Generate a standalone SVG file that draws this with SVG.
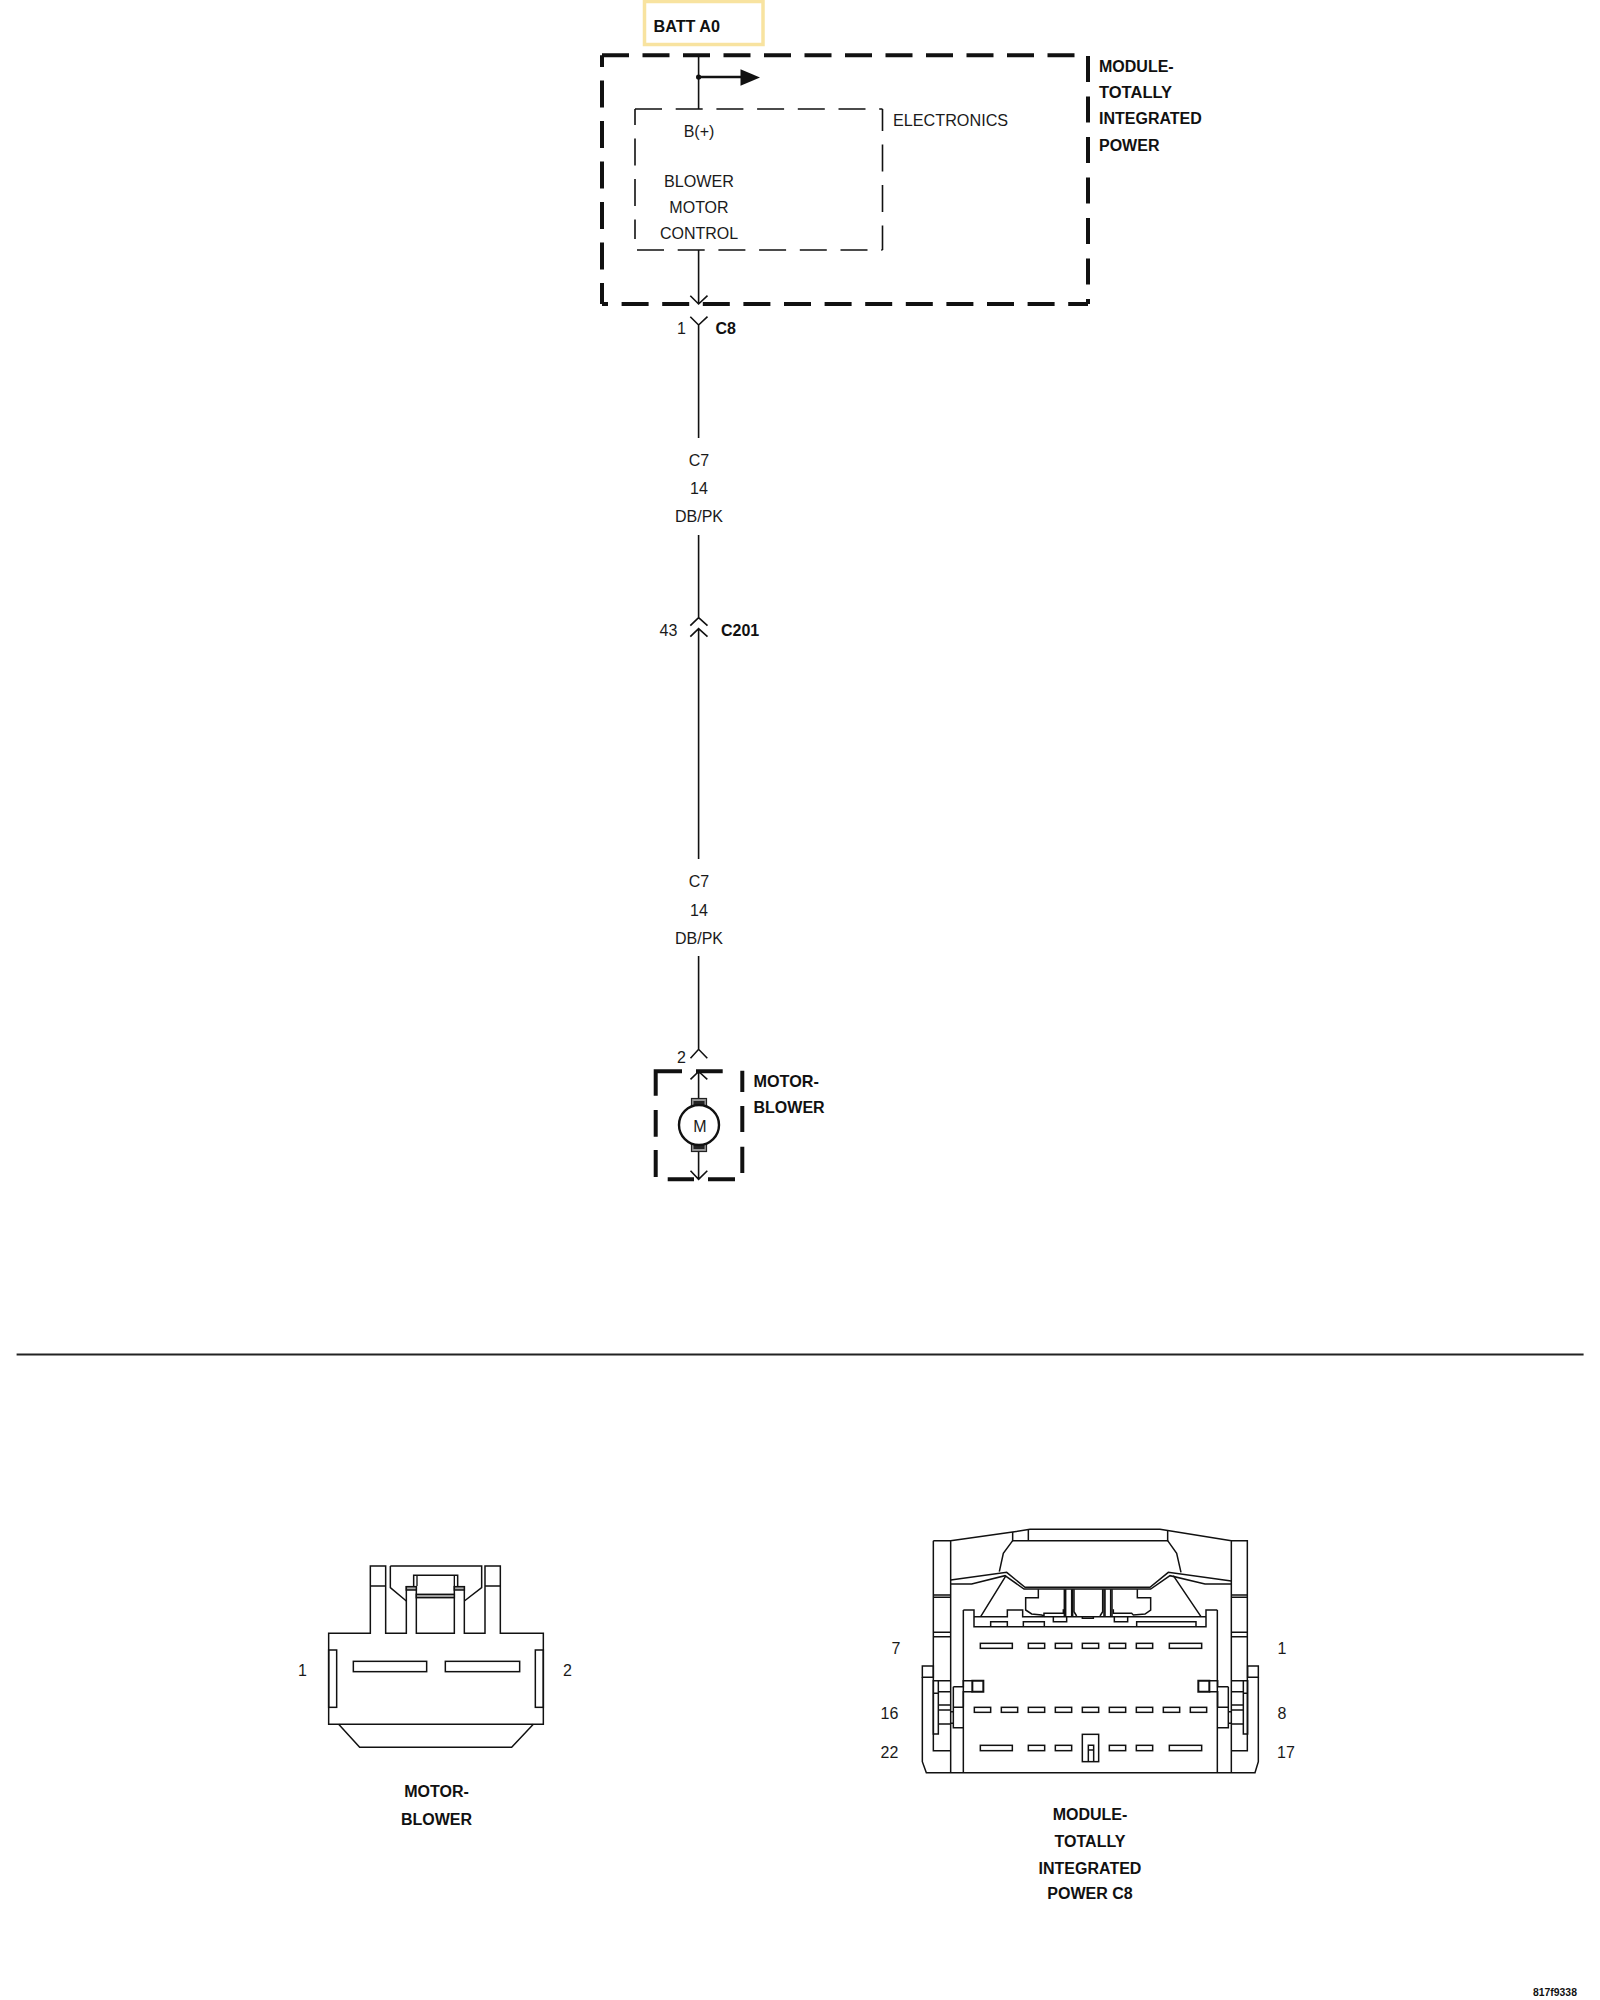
<svg xmlns="http://www.w3.org/2000/svg" width="1600" height="2000" viewBox="0 0 1600 2000">
<style>
text{font-family:"Liberation Sans",Arial,sans-serif;font-size:16px;fill:#1a1a1a}
.b{font-weight:bold;fill:#111}
.m{text-anchor:middle}
.w{fill:none;stroke:#111;stroke-width:1.6}
.d4{fill:none;stroke:#111;stroke-width:4}
.d2{fill:none;stroke:#111;stroke-width:1.6}
.c{fill:none;stroke:#111;stroke-width:4.5}
.g{fill:#aaa;stroke:#111;stroke-width:4.5}
.k{fill:none;stroke:#111;stroke-width:4}
</style>
<rect width="1600" height="2000" fill="#fff"/>
<g id="batt-a0">
<rect x="644.5" y="1.5" width="118.5" height="43" fill="#fff" stroke="#f8e3a0" stroke-width="3.5"/>
<text class="b" x="653.5" y="31.5" style="font-size:16.2px">BATT A0</text>
</g>
<g id="module-tipm">
<path class="d4" stroke-dasharray="27 13.5" d="M602,55.3H1075"/>
<path class="d4" stroke-dasharray="27 13.5" stroke-dashoffset="6" d="M602,304V55.3"/>
<path class="d4" stroke-dasharray="26 14.5" d="M1088,56V304"/>
<path class="d4" stroke-dasharray="27 13.6" stroke-dashoffset="21" d="M602,304H1088"/>
<text class="b" x="1099" y="72">MODULE-</text>
<text class="b" x="1099" y="98" style="font-size:16.5px">TOTALLY</text>
<text class="b" x="1099" y="124">INTEGRATED</text>
<text class="b" x="1099" y="151">POWER</text>
</g>
<g id="electronics">
<path class="d2" stroke-dasharray="27 13.7" d="M635,109H882.5"/>
<path class="d2" stroke-dasharray="27 13.5" stroke-dashoffset="11" d="M635,109V239"/>
<path class="d2" stroke-dasharray="27 13.5" stroke-dashoffset="5" d="M882.5,109V250"/>
<path class="d2" stroke-dasharray="27 13.7" d="M637,250H882.5"/>
<text x="893" y="126" style="font-size:16.2px">ELECTRONICS</text>
<text class="m" x="699" y="137">B(+)</text>
<text class="m" x="699" y="187" style="font-size:16.2px">BLOWER</text>
<text class="m" x="699" y="213">MOTOR</text>
<text class="m" x="699" y="239">CONTROL</text>
</g>
<g id="connectors">
<path class="w" d="M698.6,56V109M698.6,250V304M690.3,295.7L698.6,304L707.5,295.7"/>
<circle cx="698.6" cy="77" r="2.6" fill="#111"/>
<path d="M698.6,77H742" fill="none" stroke="#111" stroke-width="2.6"/>
<path d="M740.5,69.3L760,77.5L740.5,85.7Z" fill="#111"/>
<path class="w" d="M690.3,316.7L698.6,325L707.5,316.7M698.6,325V438"/>
<path class="w" d="M698.6,535V617.7M690.3,625.7L698.6,617.7L707.5,625.7"/>
<path class="w" d="M690.3,636.7L698.6,628.7L707.5,636.7M698.6,628.7V859"/>
<path class="w" d="M698.6,956V1049.3M690.5,1058.3L698.6,1049.3L707.3,1058.3"/>
<path class="w" d="M690.5,1079.3L698.6,1071.5L707.3,1079.3M698.6,1071.5V1098M698.6,1151V1179.3M690.5,1170.7L698.6,1179.3L707.3,1170.7"/>
<path d="M16.6,1354.5H1583.6" stroke="#222" stroke-width="2" fill="none"/>
</g>
<g id="labels">
<text class="m" x="681.5" y="334">1</text>
<text class="b" x="715.5" y="334">C8</text>
<text class="m" x="699" y="466">C7</text>
<text class="m" x="699" y="494">14</text>
<text class="m" x="699" y="522">DB/PK</text>
<text class="m" x="668.5" y="636">43</text>
<text class="b" x="721" y="636">C201</text>
<text class="m" x="699" y="887">C7</text>
<text class="m" x="699" y="916">14</text>
<text class="m" x="699" y="944">DB/PK</text>
<text class="m" x="681.5" y="1062.5">2</text>
</g>
<g id="motor-blower">
<path class="d4" d="M682,1071.3H655.7V1095.7M696,1071.3H722.7M655.7,1110V1136.7M655.7,1150V1177M742.3,1070.7V1092M742.3,1106V1132M742.3,1146.7V1173M667.7,1179.3H694M708,1179.3H735"/>
<rect x="691.5" y="1098.5" width="15" height="9" fill="#999" stroke="#222" stroke-width="1.2"/>
<rect x="693.5" y="1101" width="11" height="6" fill="#222"/>
<rect x="691.5" y="1143" width="15" height="8.5" fill="#999" stroke="#222" stroke-width="1.2"/>
<rect x="693.5" y="1144" width="11" height="5" fill="#222"/>
<circle cx="699" cy="1125" r="20" fill="#fff" stroke="#111" stroke-width="2.4"/>
<text class="m" x="700" y="1131.5">M</text>
<text class="b" x="753.5" y="1086.7" style="font-size:16.2px">MOTOR-</text>
<text class="b" x="753.5" y="1112.7">BLOWER</text>
</g>
<g id="connector-motor-blower">
<g transform="translate(280,1550) scale(0.33333)">
<path class="c" d="M146,523V250H271V48H317V250H379V110H409V250H523V110H553V250H615V48H661V250H790V523Z"/>
<path class="c" d="M271,108H317M615,108H661M331,48H605V113L553,153M331,48V113L379,153"/>
<path class="c" d="M401,108V76H533V108"/>
<path class="k" d="M411,76V108M523,76V108"/>
<rect class="g" x="379" y="110" width="30" height="10"/>
<rect class="g" x="523" y="110" width="30" height="10"/>
<rect class="g" x="409" y="133" width="114" height="10"/>
<rect class="c" x="146" y="300" width="24" height="172"/>
<rect class="c" x="766" y="300" width="24" height="172"/>
<rect class="c" x="220" y="334" width="220" height="31"/>
<rect class="c" x="496" y="334" width="223" height="31"/>
<path class="c" d="M176,523L239,592H695L760,523"/>
</g>
<text class="m" x="302.5" y="1676">1</text>
<text class="m" x="567.5" y="1676">2</text>
<text class="b m" x="436.5" y="1797">MOTOR-</text>
<text class="b m" x="436.5" y="1825">BLOWER</text>
</g>
<g id="connector-tipm-c8">
<g transform="translate(900,1510) scale(0.33333)">
<path class="c" d="M100,92H152L338,66L390,58H780L994,92H1042V722H994M100,92V722H152M152,92V788M190,300V788M994,92V788M952,300V788M67,502V755L79,788H1065L1075,755V502"/>
<path class="c" d="M338,66V92H803V62M385,60V92"/>
<path class="c" d="M338,92L310,130L298,185M803,92L830,130L843,187"/>
<path class="c" d="M152,210L320,187L375,232H750L805,187L994,213"/>
<path class="c" d="M152,222H215L315,197L372,237H752L810,197L915,222H994"/>
<path class="c" d="M318,197L242,320M820,197L903,320"/>
<path class="c" d="M100,255H152M100,262H152M994,255H1042M994,262H1042M100,367H152M100,380H152M994,367H1042M994,380H1042"/>
<path class="c" d="M190,300H222V350H918V300H952M222,320H322V300H368V320H918"/>
<path class="c" d="M272,350V335H322V350M370,350V335H433V350M710,350V335H888V350M460,320V335H500V320M643,320V335H683V320M547,320V325H580V320"/>
<path class="c" d="M415,238V263H377V300L395,312L425,315L432,318V310H490V298M712,238V263H752V300L735,312L700,315L695,310H640V298"/>
<path class="c" d="M493,238V320M518,238V320M612,238V320M636,238V320"/>
<path class="c" d="M522,238V305L530,318M608,238V305L600,318"/>
<path class="c" d="M497,238V320M515,238V320M615,238V320M632,238V320"/>
<g id="slots" class="c">
<rect x="241" y="400" width="96" height="15"/><rect x="385" y="400" width="49" height="15"/><rect x="466" y="400" width="49" height="15"/><rect x="547" y="400" width="49" height="15"/><rect x="628" y="400" width="49" height="15"/><rect x="709" y="400" width="49" height="15"/><rect x="808" y="400" width="97" height="15"/>
<rect x="223" y="592" width="49" height="15"/><rect x="304" y="592" width="49" height="15"/><rect x="385" y="592" width="49" height="15"/><rect x="466" y="592" width="49" height="15"/><rect x="547" y="592" width="49" height="15"/><rect x="628" y="592" width="49" height="15"/><rect x="709" y="592" width="49" height="15"/><rect x="790" y="592" width="49" height="15"/><rect x="871" y="592" width="49" height="15"/>
<rect x="241" y="706" width="96" height="16"/><rect x="385" y="706" width="49" height="16"/><rect x="466" y="706" width="49" height="16"/><rect x="628" y="706" width="49" height="16"/><rect x="709" y="706" width="49" height="16"/><rect x="808" y="706" width="97" height="16"/>
<rect x="547" y="673" width="49" height="82"/>
<path d="M565,755V706H581V755M565,720H581"/>
</g>
<path class="c" d="M67,468H100V502H67ZM100,512H115V550H100ZM100,550V672H115V512H152M115,545H152M115,585H152M115,600H152M115,642H152M152,605H160M152,640H160"/>
<path class="c" d="M160,530H190V512H217M160,530V653H190M160,592H190M217,545H190V590"/>
<path class="c" style="stroke-width:6" d="M217,512H250V545H217Z"/>
<path class="c" d="M1075,468H1043V502H1075ZM1030,512H1043V550H1030ZM1043,550V672H1030V512H995M1030,545H995M1030,585H995M1030,600H995M1030,642H995M995,605H985M995,640H985"/>
<path class="c" d="M985,530H953V512H928M985,530V653H953M985,592H953M928,545H953V590"/>
<path class="c" style="stroke-width:6" d="M928,512H895V545H928Z"/>
</g>
<text class="m" x="896" y="1654">7</text>
<text class="m" x="1282" y="1654">1</text>
<text class="m" x="889.5" y="1719">16</text>
<text class="m" x="1282" y="1719">8</text>
<text class="m" x="889.5" y="1757.5">22</text>
<text class="m" x="1286" y="1757.5">17</text>
<text class="b m" x="1090" y="1820">MODULE-</text>
<text class="b m" x="1090" y="1847">TOTALLY</text>
<text class="b m" x="1090" y="1873.5">INTEGRATED</text>
<text class="b m" x="1090" y="1899">POWER C8</text>
</g>
<text class="b" x="1533" y="1996" style="font-size:10.4px">817f9338</text>
</svg>
